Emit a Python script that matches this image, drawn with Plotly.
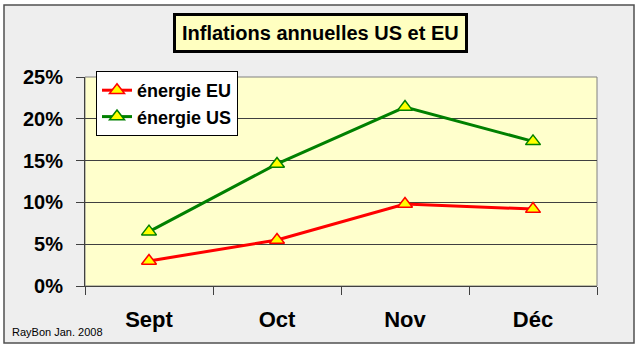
import plotly.graph_objects as go

months = ["Sept", "Oct", "Nov", "Déc"]
energie_eu = [3.0, 5.5, 9.8, 9.2]
energie_us = [6.5, 14.6, 21.4, 17.3]
y_ticks = [0, 5, 10, 15, 20, 25]
y_tick_labels = ["0%", "5%", "10%", "15%", "20%", "25%"]

W, H = 640, 348
L, R, T, B = 85, 43, 77, 62
pw, ph = W - L - R, H - T - B


def px(x):
    return (x - L) / pw


def py(y):
    return (H - B - y) / ph


fig = go.Figure()

series = [("énergie EU", energie_eu, "#ff0000"), ("énergie US", energie_us, "#008000")]
for name, vals, col in series:
    fig.add_trace(go.Scatter(
        x=months, y=vals, name=name, mode="lines+markers",
        line=dict(color=col, width=3),
        marker=dict(symbol="triangle-up", size=13, color="#ffff00",
                    line=dict(color=col, width=1.5)),
    ))

font_main = "Liberation Sans, Arial, sans-serif"

fig.update_layout(
    width=W, height=H,
    margin=dict(l=L, r=R, t=T, b=B),
    paper_bgcolor="#ffffff",
    plot_bgcolor="rgba(0,0,0,0)",
    font=dict(family=font_main, color="#000000"),
    showlegend=True,
    legend=dict(
        x=px(96), y=py(71), xanchor="left", yanchor="top",
        bgcolor="#ffffff", bordercolor="#000000", borderwidth=1,
        font=dict(size=18, family=font_main, weight="bold"),
        tracegroupgap=0, itemwidth=30,
    ),
    xaxis=dict(
        range=[-0.5, 3.5], showgrid=False, tickson="boundaries",
        ticks="outside", ticklen=8, tickcolor="#404040",
        showline=True, linecolor="#404040", linewidth=1,
        tickfont=dict(size=22, family=font_main, weight="bold"),
        ticklabelstandoff=14,
    ),
    yaxis=dict(
        range=[0, 25], tickvals=y_ticks, ticktext=y_tick_labels,
        showgrid=True, gridcolor="#404040", gridwidth=1,
        ticks="outside", ticklen=8, tickcolor="#404040",
        showline=True, linecolor="#404040", linewidth=1,
        tickfont=dict(size=20, family=font_main, weight="bold"),
        ticklabelstandoff=9,
        zeroline=False,
    ),
    shapes=[
        # outer frame
        dict(type="rect", xref="paper", yref="paper", layer="below",
             x0=px(4), x1=px(634), y0=py(343), y1=py(5),
             fillcolor="#eeeeee", line=dict(color="#505050", width=1.5)),
        # plot area background
        dict(type="rect", xref="paper", yref="paper", layer="below",
             x0=0, x1=1, y0=0, y1=1,
             fillcolor="#ffffcc", line=dict(color="#808080", width=1)),
    ],
    annotations=[
        dict(text="Inflations annuelles US et EU", xref="paper", yref="paper",
             x=px(320), y=py(33), xanchor="center", yanchor="middle",
             showarrow=False, bgcolor="#ffffc0", bordercolor="#000000",
             borderwidth=3, borderpad=6,
             font=dict(size=20, family=font_main, weight="bold")),
        dict(text="RayBon Jan. 2008", xref="paper", yref="paper",
             x=px(10), y=py(332), xanchor="left", yanchor="middle",
             showarrow=False, font=dict(size=11, family=font_main)),
    ],
)

fig.write_html("out.html")
